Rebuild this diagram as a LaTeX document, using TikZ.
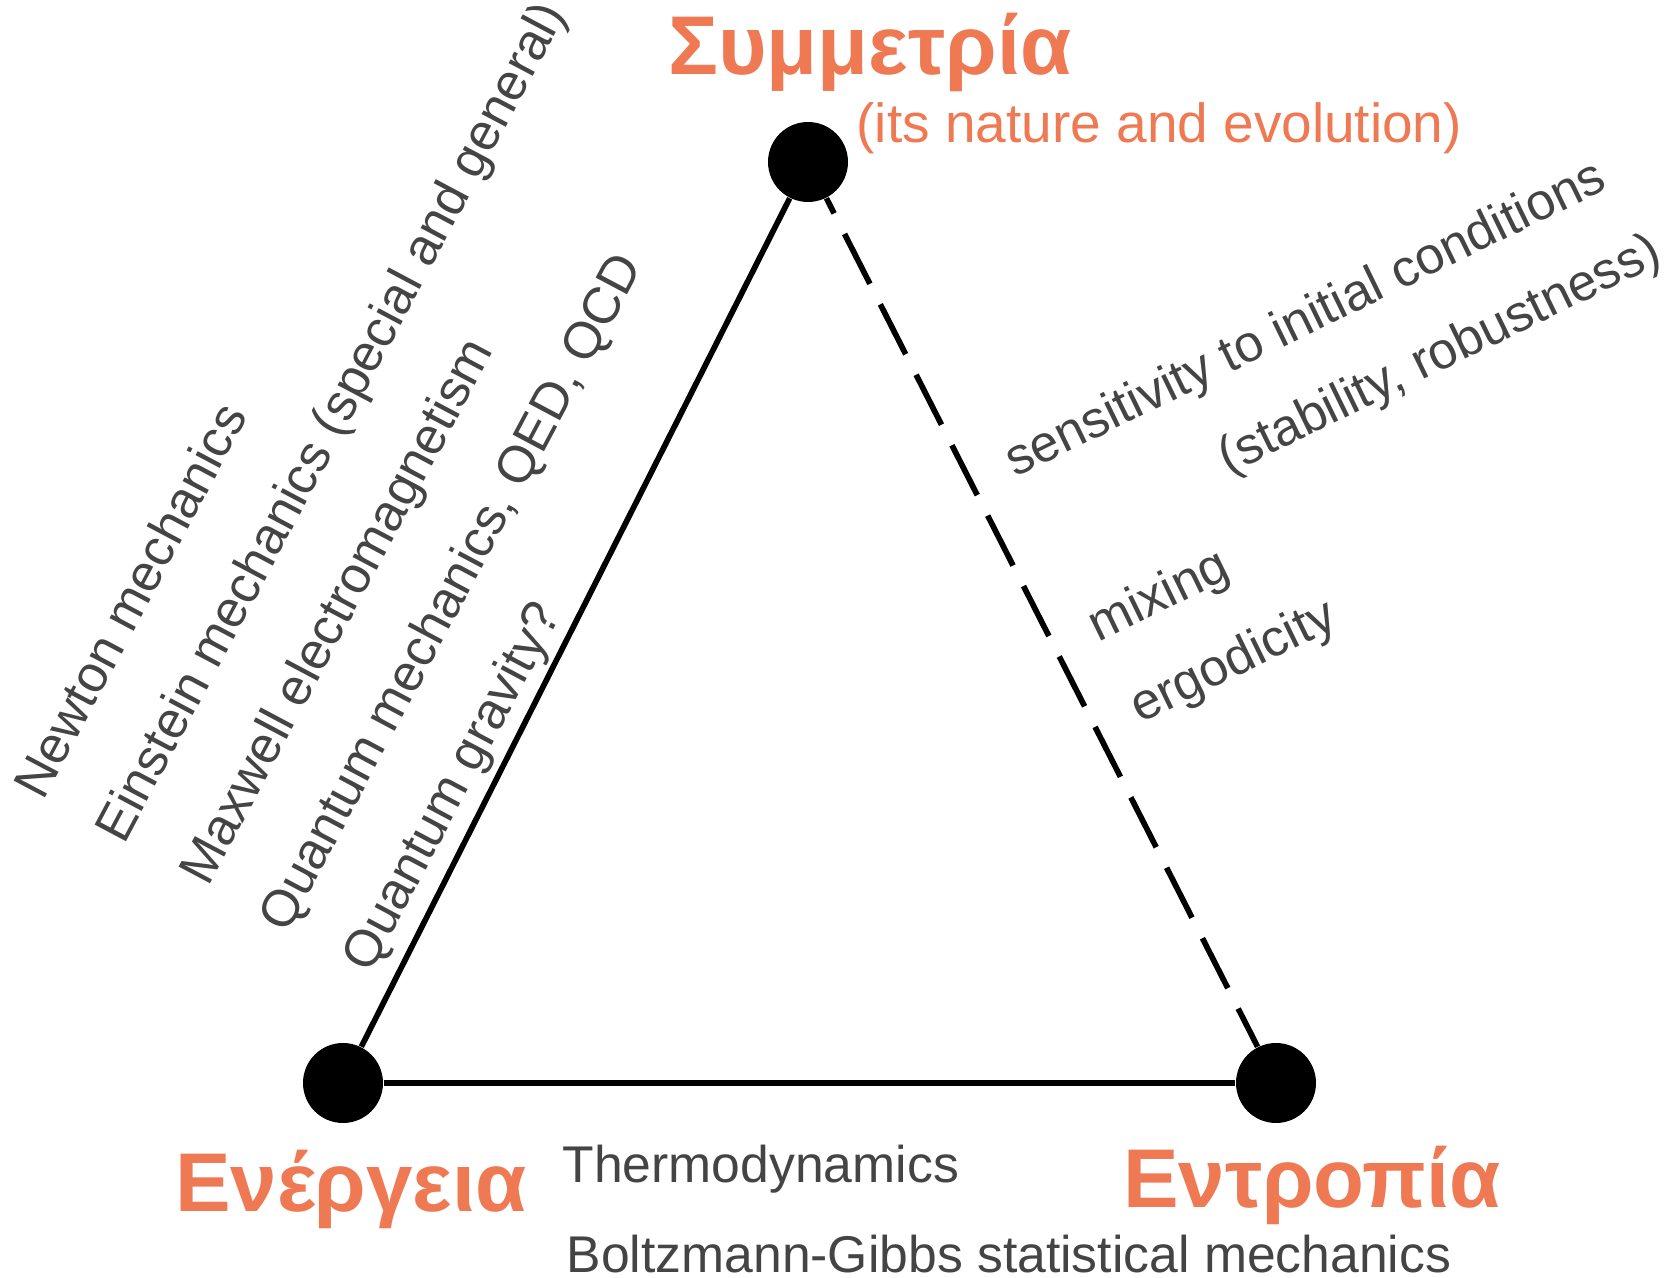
\documentclass[tikz,border=0pt]{standalone}
\usepackage{fontspec}
\setmainfont{Liberation Sans}
\definecolor{symorange}{RGB}{238,121,82}
\definecolor{notegray}{RGB}{68,68,68}
\tikzset{
  vertex/.style={circle, fill=black, inner sep=0pt, minimum size=24pt},
  side/.style={line width=1.7pt},
  greek/.style={text=symorange, font=\fontsize{25}{29}\selectfont\bfseries, inner sep=0pt, anchor=base},
  note/.style={text=notegray, font=\fontsize{15.5}{18}\selectfont, inner sep=0pt, anchor=base west},
}
\begin{document}
\begin{tikzpicture}[x=0.3pt,y=0.3pt,yscale=-1,xscale=1]
        \useasboundingbox (0,0) rectangle (1668,1278);
        \node (sym) [vertex] at (808,162) {};
        \node (ene) [vertex] at (343,1083) {};
        \node (ent) [vertex] at (1276,1083) {};
        \draw [side] (sym) -- (ene);
        \draw [side] (ene) -- (ent);
        \draw [side, dash pattern=on 16.8pt off 6.9pt, dash phase=11.7pt] (sym) -- (ent);
        \node (symlabel) [greek] at (870,75) {Συμμετρία};
        \node (symsub) [greek, font=\fontsize{16.5}{19}\selectfont, anchor=base west] at (856,143) {(its nature and evolution)};
        \node (enelabel) [greek] at (351,1212) {Ενέργεια};
        \node (entlabel) [greek] at (1312,1208) {Εντροπία};
        \node (thermo) [note] at (562,1183) {Thermodynamics};
        \node (bgstat) [note] at (566,1273) {Boltzmann-Gibbs statistical mechanics};
        \node (newton) [note, rotate=62] at (43,802) {Newton mechanics};
        \node (einstein) [note, rotate=62] at (124,846) {Einstein mechanics (special and general)};
        \node (maxwell) [note, rotate=62] at (208,888) {Maxwell electromagnetism};
        \node (quantum) [note, rotate=62] at (287,935) {Quantum mechanics, QED, QCD};
        \node (gravity) [note, rotate=62] at (370,975) {Quantum gravity?};
        \node (sensitivity) [note, rotate=26] at (1015,478) {sensitivity to initial conditions};
        \node (stability) [note, rotate=26] at (1228,475) {(stability, robustness)};
        \node (mixing) [note, rotate=26] at (1098,643) {mixing};
        \node (ergodicity) [note, rotate=26] at (1140,724) {ergodicity};
    \end{tikzpicture}
\end{document}
